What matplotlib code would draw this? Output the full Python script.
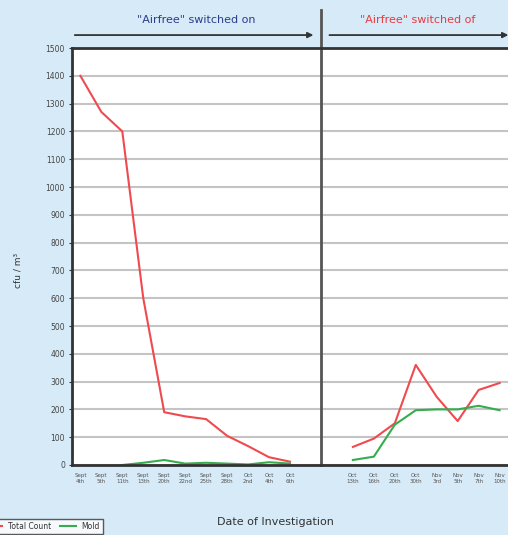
import matplotlib
matplotlib.use('Agg')
from matplotlib import pyplot as plt
import numpy as np

# dates of investigation (blank slots around the switch-over)
dates = ['Sept\n4th', 'Sept\n5th', 'Sept\n11th', 'Sept\n13th', 'Sept\n20th',
         'Sept\n22nd', 'Sept\n25th', 'Sept\n28th', 'Oct\n2nd', 'Oct\n4th',
         'Oct\n6th', '', '',
         'Oct\n13th', 'Oct\n16th', 'Oct\n20th', 'Oct\n30th', 'Nov\n3rd',
         'Nov\n5th', 'Nov\n7th', 'Nov\n10th']

total_on = [1400, 1270, 1200, 600, 190, 175, 165, 105, 68, 28, 12]
mold_on = [None, None, 0, 8, 18, 5, 8, 5, 2, 10, 5]
total_off = [65, 95, 150, 360, 245, 158, 270, 295]
mold_off = [18, 30, 145, 197, 200, 200, 213, 197]

yticks = list(range(0, 1600, 100))

red = '#ef4a4f'
green = '#35ad4f'
bg = '#d6eaf7'

fig = plt.figure(figsize=(5.08, 5.35), dpi=100, facecolor=bg)
ax = fig.add_axes([72 / 508, 1 - 465 / 535, 1 - 72 / 508, (465 - 48) / 535])
ax.set_facecolor('white')

x_on = np.arange(len(total_on))
x_off = np.arange(len(dates) - len(total_off), len(dates))

ax.plot(x_on, total_on, c=red, lw=1.5, label='Total Count')
ax.plot(x_off, total_off, c=red, lw=1.5)
m_on = np.array([np.nan if v is None else v for v in mold_on], dtype=float)
ax.plot(x_on, m_on, c=green, lw=1.5, label='Mold')
ax.plot(x_off, mold_off, c=green, lw=1.5)

ax.set_xlim(-0.4, 20.4)
ax.set_ylim(0, 1500)
ax.set_yticks(yticks)
ax.set_yticklabels([str(v) for v in yticks], fontsize=5.5, color='#444444')
ax.set_xticks(range(len(dates)))
ax.set_xticklabels(dates, fontsize=4, color='#555555', linespacing=1.1)
ax.tick_params(axis='x', length=0, pad=6)
ax.tick_params(axis='y', length=2, color='#333333', pad=3)
ax.grid(axis='y', color='#c4c4c4', lw=1.5)
ax.set_axisbelow(True)

for side in ['top', 'bottom', 'left']:
    ax.spines[side].set_color('#333333')
    ax.spines[side].set_linewidth(2)
ax.spines['right'].set_visible(False)

# switch-over divider and arrows
ax.axvline(11.5, ymin=0, ymax=(465 - 10) / 417, color='#555555', lw=2, clip_on=False)
ax.annotate('', xy=(11.25, 1.031), xytext=(-0.4, 1.031),
            xycoords=('data', 'axes fraction'),
            arrowprops=dict(arrowstyle='-|>', color='#333333', lw=1.3,
                            mutation_scale=8), annotation_clip=False)
ax.annotate('', xy=(20.55, 1.031), xytext=(11.75, 1.031),
            xycoords=('data', 'axes fraction'),
            arrowprops=dict(arrowstyle='-|>', color='#333333', lw=1.3,
                            mutation_scale=8), annotation_clip=False)

fig.text(196 / 508, 1 - 20 / 535, '"Airfree" switched on', ha='center', va='center',
         fontsize=8, color='#2b3c8c')
fig.text(418 / 508, 1 - 20 / 535, '"Airfree" switched of', ha='center', va='center',
         fontsize=8, color='#e83a40')

fig.text(18 / 508, 1 - 270 / 535, 'cfu / m³', rotation=90, ha='center', va='center',
         fontsize=6.5, color='#333333')
fig.text(275 / 508, 1 - 522 / 535, 'Date of Investigation', ha='center', va='center',
         fontsize=8, color='#333333')

fig.legend(loc='upper right', bbox_to_anchor=(107 / 508, 20 / 535), ncol=2,
           fontsize=5.5, frameon=True, fancybox=False, edgecolor='#333333',
           facecolor='white', handlelength=2, columnspacing=1.2,
           borderpad=0.4, labelcolor='#333333')

fig.savefig('out.png', dpi=100, facecolor=bg)
